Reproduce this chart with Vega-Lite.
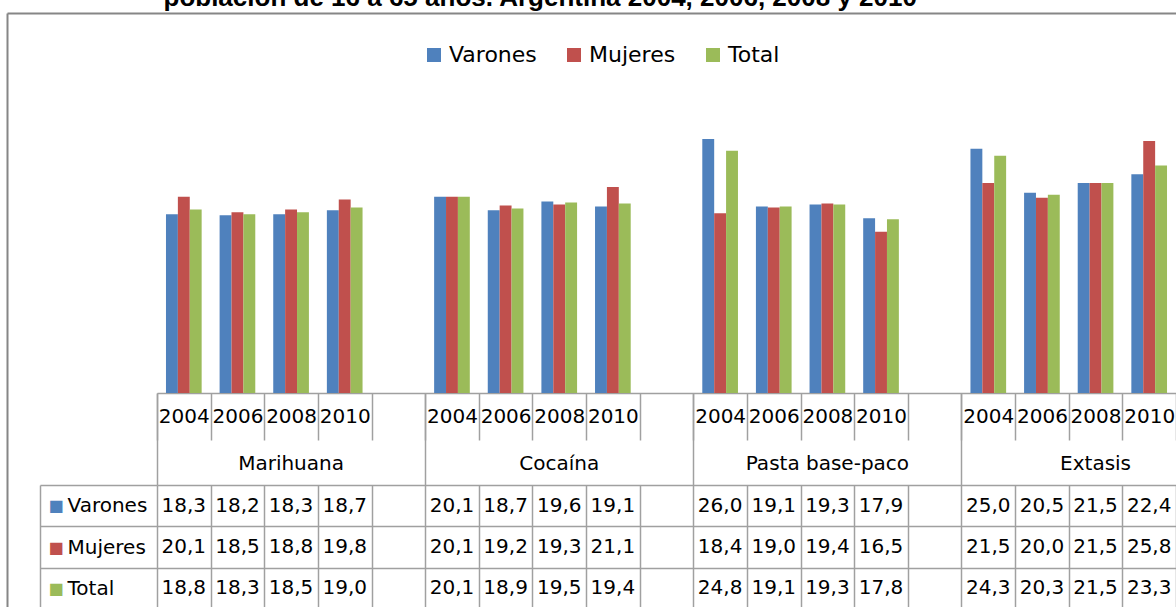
{
  "$schema": "https://vega.github.io/schema/vega-lite/v6.json",
  "background": "white",
  "autosize": {"type": "none"},
  "width": 1019,
  "height": 293,
  "padding": {"left": 157, "top": 100, "right": 0, "bottom": 214},
  "data": {"values": [
    {"droga": "Marihuana", "anio": "2004", "slot": "Marihuana|2004", "serie": "Varones", "valor": 18.3},
    {"droga": "Marihuana", "anio": "2006", "slot": "Marihuana|2006", "serie": "Varones", "valor": 18.2},
    {"droga": "Marihuana", "anio": "2008", "slot": "Marihuana|2008", "serie": "Varones", "valor": 18.3},
    {"droga": "Marihuana", "anio": "2010", "slot": "Marihuana|2010", "serie": "Varones", "valor": 18.7},
    {"droga": "Marihuana", "anio": "2004", "slot": "Marihuana|2004", "serie": "Mujeres", "valor": 20.1},
    {"droga": "Marihuana", "anio": "2006", "slot": "Marihuana|2006", "serie": "Mujeres", "valor": 18.5},
    {"droga": "Marihuana", "anio": "2008", "slot": "Marihuana|2008", "serie": "Mujeres", "valor": 18.8},
    {"droga": "Marihuana", "anio": "2010", "slot": "Marihuana|2010", "serie": "Mujeres", "valor": 19.8},
    {"droga": "Marihuana", "anio": "2004", "slot": "Marihuana|2004", "serie": "Total", "valor": 18.8},
    {"droga": "Marihuana", "anio": "2006", "slot": "Marihuana|2006", "serie": "Total", "valor": 18.3},
    {"droga": "Marihuana", "anio": "2008", "slot": "Marihuana|2008", "serie": "Total", "valor": 18.5},
    {"droga": "Marihuana", "anio": "2010", "slot": "Marihuana|2010", "serie": "Total", "valor": 19.0},
    {"droga": "Cocaína", "anio": "2004", "slot": "Cocaína|2004", "serie": "Varones", "valor": 20.1},
    {"droga": "Cocaína", "anio": "2006", "slot": "Cocaína|2006", "serie": "Varones", "valor": 18.7},
    {"droga": "Cocaína", "anio": "2008", "slot": "Cocaína|2008", "serie": "Varones", "valor": 19.6},
    {"droga": "Cocaína", "anio": "2010", "slot": "Cocaína|2010", "serie": "Varones", "valor": 19.1},
    {"droga": "Cocaína", "anio": "2004", "slot": "Cocaína|2004", "serie": "Mujeres", "valor": 20.1},
    {"droga": "Cocaína", "anio": "2006", "slot": "Cocaína|2006", "serie": "Mujeres", "valor": 19.2},
    {"droga": "Cocaína", "anio": "2008", "slot": "Cocaína|2008", "serie": "Mujeres", "valor": 19.3},
    {"droga": "Cocaína", "anio": "2010", "slot": "Cocaína|2010", "serie": "Mujeres", "valor": 21.1},
    {"droga": "Cocaína", "anio": "2004", "slot": "Cocaína|2004", "serie": "Total", "valor": 20.1},
    {"droga": "Cocaína", "anio": "2006", "slot": "Cocaína|2006", "serie": "Total", "valor": 18.9},
    {"droga": "Cocaína", "anio": "2008", "slot": "Cocaína|2008", "serie": "Total", "valor": 19.5},
    {"droga": "Cocaína", "anio": "2010", "slot": "Cocaína|2010", "serie": "Total", "valor": 19.4},
    {"droga": "Pasta base-paco", "anio": "2004", "slot": "Pasta base-paco|2004", "serie": "Varones", "valor": 26.0},
    {"droga": "Pasta base-paco", "anio": "2006", "slot": "Pasta base-paco|2006", "serie": "Varones", "valor": 19.1},
    {"droga": "Pasta base-paco", "anio": "2008", "slot": "Pasta base-paco|2008", "serie": "Varones", "valor": 19.3},
    {"droga": "Pasta base-paco", "anio": "2010", "slot": "Pasta base-paco|2010", "serie": "Varones", "valor": 17.9},
    {"droga": "Pasta base-paco", "anio": "2004", "slot": "Pasta base-paco|2004", "serie": "Mujeres", "valor": 18.4},
    {"droga": "Pasta base-paco", "anio": "2006", "slot": "Pasta base-paco|2006", "serie": "Mujeres", "valor": 19.0},
    {"droga": "Pasta base-paco", "anio": "2008", "slot": "Pasta base-paco|2008", "serie": "Mujeres", "valor": 19.4},
    {"droga": "Pasta base-paco", "anio": "2010", "slot": "Pasta base-paco|2010", "serie": "Mujeres", "valor": 16.5},
    {"droga": "Pasta base-paco", "anio": "2004", "slot": "Pasta base-paco|2004", "serie": "Total", "valor": 24.8},
    {"droga": "Pasta base-paco", "anio": "2006", "slot": "Pasta base-paco|2006", "serie": "Total", "valor": 19.1},
    {"droga": "Pasta base-paco", "anio": "2008", "slot": "Pasta base-paco|2008", "serie": "Total", "valor": 19.3},
    {"droga": "Pasta base-paco", "anio": "2010", "slot": "Pasta base-paco|2010", "serie": "Total", "valor": 17.8},
    {"droga": "Extasis", "anio": "2004", "slot": "Extasis|2004", "serie": "Varones", "valor": 25.0},
    {"droga": "Extasis", "anio": "2006", "slot": "Extasis|2006", "serie": "Varones", "valor": 20.5},
    {"droga": "Extasis", "anio": "2008", "slot": "Extasis|2008", "serie": "Varones", "valor": 21.5},
    {"droga": "Extasis", "anio": "2010", "slot": "Extasis|2010", "serie": "Varones", "valor": 22.4},
    {"droga": "Extasis", "anio": "2004", "slot": "Extasis|2004", "serie": "Mujeres", "valor": 21.5},
    {"droga": "Extasis", "anio": "2006", "slot": "Extasis|2006", "serie": "Mujeres", "valor": 20.0},
    {"droga": "Extasis", "anio": "2008", "slot": "Extasis|2008", "serie": "Mujeres", "valor": 21.5},
    {"droga": "Extasis", "anio": "2010", "slot": "Extasis|2010", "serie": "Mujeres", "valor": 25.8},
    {"droga": "Extasis", "anio": "2004", "slot": "Extasis|2004", "serie": "Total", "valor": 24.3},
    {"droga": "Extasis", "anio": "2006", "slot": "Extasis|2006", "serie": "Total", "valor": 20.3},
    {"droga": "Extasis", "anio": "2008", "slot": "Extasis|2008", "serie": "Total", "valor": 21.5},
    {"droga": "Extasis", "anio": "2010", "slot": "Extasis|2010", "serie": "Total", "valor": 23.3}
  ]},
  "resolve": {"scale": {"x": "independent", "y": "independent"}, "axis": {"x": "independent", "y": "independent"}},
  "layer": [
    {
      "mark": {"type": "bar"},
      "encoding": {
        "x": {"field": "slot", "type": "nominal", "sort": null,
          "scale": {"domain": ["Marihuana|2004","Marihuana|2006","Marihuana|2008","Marihuana|2010","Marihuana|","Cocaína|2004","Cocaína|2006","Cocaína|2008","Cocaína|2010","Cocaína|","Pasta base-paco|2004","Pasta base-paco|2006","Pasta base-paco|2008","Pasta base-paco|2010","Pasta base-paco|","Extasis|2004","Extasis|2006","Extasis|2008","Extasis|2010"], "paddingInner": 0, "paddingOuter": 0},
          "axis": {"orient": "bottom", "title": null, "tickBand": "extent", "tickSize": 47, "tickColor": "#A0A0A0", "tickWidth": 1.5, "domain": true, "domainColor": "#A0A0A0", "domainWidth": 1.5, "labelExpr": "split(datum.value, '|')[1]", "labelAngle": 0, "labelFont": "DejaVu Sans", "labelFontSize": 20, "labelColor": "black", "labelBaseline": "middle", "labelAlign": "center", "labelPadding": -23.5, "labelOverlap": false, "labelBound": false, "grid": false}},
        "xOffset": {"field": "serie", "type": "nominal", "sort": ["Varones", "Mujeres", "Total"], "scale": {"paddingInner": 0, "paddingOuter": 0.755}},
        "y": {"field": "valor", "type": "quantitative", "scale": {"domain": [0, 30], "nice": false, "zero": true}, "axis": null},
        "color": {"field": "serie", "type": "nominal", "sort": ["Varones", "Mujeres", "Total"],
          "scale": {"domain": ["Varones", "Mujeres", "Total"], "range": ["#4F81BD", "#C0504D", "#9BBB59"]},
          "legend": {"orient": "none", "legendX": 266, "legendY": -56, "direction": "horizontal", "columns": 3, "title": null, "padding": 0, "symbolType": "square", "symbolSize": 196, "symbolStrokeWidth": 0, "labelFont": "DejaVu Sans", "labelFontSize": 22, "labelColor": "black", "labelOffset": 4, "columnPadding": 26, "labelLimit": 300}}
      }
    },
    {
      "mark": {"type": "bar", "opacity": 0},
      "encoding": {
        "x": {"field": "slot", "type": "nominal", "sort": null,
          "scale": {"domain": ["Marihuana|2004","Marihuana|2006","Marihuana|2008","Marihuana|2010","Marihuana|","Cocaína|2004","Cocaína|2006","Cocaína|2008","Cocaína|2010","Cocaína|","Pasta base-paco|2004","Pasta base-paco|2006","Pasta base-paco|2008","Pasta base-paco|2010","Pasta base-paco|","Extasis|2004","Extasis|2006","Extasis|2008","Extasis|2010"], "paddingInner": 0, "paddingOuter": 0},
          "axis": {"orient": "bottom", "title": null, "values": ["Marihuana|2004", "Cocaína|2004", "Pasta base-paco|2004", "Extasis|2004"], "bandPosition": 0, "tickSize": 92, "tickColor": "#A0A0A0", "tickWidth": 1.5, "domain": false, "labels": false, "grid": false}},
        "y": {"field": "valor", "type": "quantitative", "scale": {"domain": [0, 30], "nice": false}, "axis": null}
      }
    },
    {
      "mark": {"type": "bar", "opacity": 0},
      "encoding": {
        "x": {"field": "slot", "type": "nominal", "sort": null,
          "scale": {"domain": ["Marihuana|2004","Marihuana|2006","Marihuana|2008","Marihuana|2010","Marihuana|","Cocaína|2004","Cocaína|2006","Cocaína|2008","Cocaína|2010","Cocaína|","Pasta base-paco|2004","Pasta base-paco|2006","Pasta base-paco|2008","Pasta base-paco|2010","Pasta base-paco|","Extasis|2004","Extasis|2006","Extasis|2008","Extasis|2010"], "paddingInner": 0, "paddingOuter": 0},
          "axis": {"orient": "bottom", "title": null, "values": ["Marihuana|2008", "Cocaína|2008", "Pasta base-paco|2008", "Extasis|2008"], "ticks": false, "domain": false, "grid": false, "labelExpr": "split(datum.value, '|')[0]", "labelAngle": 0, "labelFont": "DejaVu Sans", "labelFontSize": 20, "labelColor": "black", "labelBaseline": "middle", "labelAlign": "center", "labelPadding": 70, "labelOverlap": false, "labelBound": false, "labelLimit": 400}},
        "y": {"field": "valor", "type": "quantitative", "scale": {"domain": [0, 30], "nice": false}, "axis": null}
      }
    },
    {
      "mark": {"type": "text", "font": "DejaVu Sans", "fontSize": 20, "color": "black", "align": "center", "baseline": "middle"},
      "encoding": {
        "x": {"field": "slot", "type": "nominal", "sort": null,
          "scale": {"domain": ["Marihuana|2004","Marihuana|2006","Marihuana|2008","Marihuana|2010","Marihuana|","Cocaína|2004","Cocaína|2006","Cocaína|2008","Cocaína|2010","Cocaína|","Pasta base-paco|2004","Pasta base-paco|2006","Pasta base-paco|2008","Pasta base-paco|2010","Pasta base-paco|","Extasis|2004","Extasis|2006","Extasis|2008","Extasis|2010"], "paddingInner": 0, "paddingOuter": 0},
          "axis": {"orient": "bottom", "offset": 92, "title": null, "tickBand": "extent", "ticks": true, "tickSize": 124, "tickColor": "#A0A0A0", "tickWidth": 1.5, "labels": false, "domain": false, "grid": false}},
        "y": {"field": "serie", "type": "nominal", "sort": null,
          "scale": {"domain": ["Varones", "Mujeres", "Total"], "range": [385, 509], "paddingInner": 0, "paddingOuter": 0},
          "axis": {"orient": "left", "title": null, "tickBand": "extent", "grid": true, "gridColor": "#A0A0A0", "gridWidth": 1.5, "ticks": true, "tickSize": 117, "tickColor": "#A0A0A0", "tickWidth": 1.5, "domain": false, "labelFont": "DejaVu Sans", "labelFontSize": 20, "labelColor": "black", "labelAlign": "left", "labelBaseline": "middle", "labelPadding": -27, "labelBound": false}},
        "text": {"field": "valor", "type": "quantitative", "format": ".1f"}
      }
    },
    {
      "mark": {"type": "text", "opacity": 0},
      "encoding": {
        "y": {"field": "serie", "type": "nominal", "sort": null,
          "scale": {"domain": ["Varones", "Mujeres", "Total"], "range": [385, 509], "paddingInner": 0, "paddingOuter": 0},
          "axis": {"orient": "left", "offset": 117, "title": null, "ticks": false, "grid": false, "domain": true, "domainColor": "#A0A0A0", "domainWidth": 1.5, "labelExpr": "'■'", "labelFont": "DejaVu Sans", "labelFontSize": 16, "labelAlign": "left", "labelBaseline": "middle", "labelPadding": -8, "labelBound": false,
            "labelColor": {"condition": [{"test": "datum.value == 'Varones'", "value": "#4F81BD"}, {"test": "datum.value == 'Mujeres'", "value": "#C0504D"}], "value": "#9BBB59"}}},
        "text": {"value": ""}
      }
    },
    {
      "mark": {"type": "point", "opacity": 0},
      "encoding": {
        "x": {"field": "valor", "type": "quantitative", "scale": {"domain": [0, 30], "range": [-150, 1019], "nice": false, "zero": false},
          "axis": {"orient": "top", "offset": 87, "domain": true, "domainColor": "#868686", "domainWidth": 2, "ticks": false, "labels": false, "grid": false,
            "title": "población de 16 a 65 años. Argentina 2004, 2006, 2008 y 2010", "titleFont": "Liberation Sans", "titleFontSize": 26, "titleFontWeight": "bold", "titleColor": "black", "titleAlign": "left", "titleAnchor": "start", "titleX": 6, "titleY": -8, "titleBaseline": "alphabetic", "titleLimit": 2000}},
        "y": {"field": "valor", "type": "quantitative", "scale": {"domain": [0, 30], "range": [507, -87], "nice": false, "zero": false},
          "axis": {"orient": "left", "offset": 150, "title": null, "domain": true, "domainColor": "#868686", "domainWidth": 2, "ticks": false, "labels": false, "grid": false}}
      }
    }
  ],
  "config": {
    "view": {"stroke": null},
    "locale": {"number": {"decimal": ",", "thousands": ".", "grouping": [3], "currency": ["$", ""]}}
  }
}
